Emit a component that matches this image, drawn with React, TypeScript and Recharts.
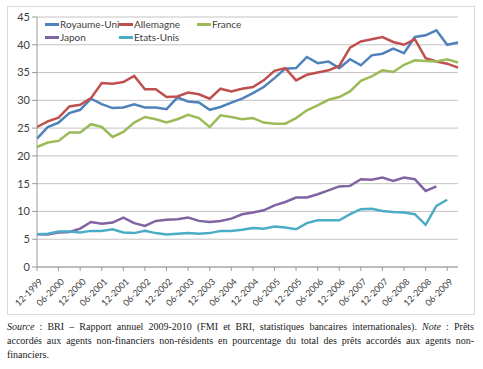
import React from "react";
import {
  LineChart,
  Line,
  XAxis,
  YAxis,
  CartesianGrid,
  Legend,
} from "recharts";

// quarterly, 12-1999 .. 09-2009
const QUARTERS = [
  "12-1999", "03-2000", "06-2000", "09-2000", "12-2000", "03-2001", "06-2001", "09-2001",
  "12-2001", "03-2002", "06-2002", "09-2002", "12-2002", "03-2003", "06-2003", "09-2003",
  "12-2003", "03-2004", "06-2004", "09-2004", "12-2004", "03-2005", "06-2005", "09-2005",
  "12-2005", "03-2006", "06-2006", "09-2006", "12-2006", "03-2007", "06-2007", "09-2007",
  "12-2007", "03-2008", "06-2008", "09-2008", "12-2008", "03-2009", "06-2009", "09-2009",
];

const ROYAUME_UNI = [
  23.1, 25.2, 26.0, 27.7, 28.3, 30.3, 29.3, 28.6, 28.7, 29.3,
  28.7, 28.7, 28.4, 30.5, 29.8, 29.6, 28.3, 28.8, 29.6, 30.3,
  31.3, 32.4, 34.0, 35.7, 35.8, 37.8, 36.7, 37.0, 35.8, 37.4,
  36.3, 38.1, 38.4, 39.3, 38.5, 41.4, 41.7, 42.6, 40.0, 40.4,
];
const ALLEMAGNE = [
  25.2, 26.2, 26.9, 28.9, 29.2, 30.4, 33.1, 33.0, 33.3, 34.4,
  32.0, 32.0, 30.6, 30.7, 31.4, 31.1, 30.3, 32.1, 31.6, 32.1,
  32.4, 33.6, 35.3, 35.8, 33.6, 34.6, 35.0, 35.4, 36.2, 39.5,
  40.6, 41.0, 41.4, 40.5, 40.0, 41.0, 37.6, 37.0, 36.6, 35.9,
];
const FRANCE = [
  21.6, 22.4, 22.7, 24.2, 24.2, 25.7, 25.2, 23.4, 24.3, 26.0,
  27.0, 26.6, 26.0, 26.6, 27.4, 26.8, 25.2, 27.3, 27.0, 26.6,
  26.8, 26.0, 25.8, 25.8, 26.8, 28.2, 29.1, 30.1, 30.6, 31.6,
  33.5, 34.3, 35.4, 35.1, 36.4, 37.2, 37.1, 37.0, 37.4, 36.8,
];
const JAPON = [
  5.9, 5.85, 6.2, 6.3, 6.9, 8.1, 7.8, 8.0, 8.9, 7.9,
  7.4, 8.3, 8.5, 8.6, 8.9, 8.3, 8.1, 8.3, 8.7, 9.5,
  9.8, 10.2, 11.1, 11.7, 12.5, 12.5, 13.1, 13.8, 14.5, 14.6,
  15.8, 15.7, 16.1, 15.5, 16.1, 15.8, 13.7, 14.5, null, null,
];
const ETATS_UNIS = [
  5.9, 6.0, 6.4, 6.4, 6.2, 6.5, 6.5, 6.8, 6.2, 6.1,
  6.5, 6.1, 5.85, 6.0, 6.1, 6.0, 6.1, 6.5, 6.5, 6.7,
  7.0, 6.9, 7.3, 7.1, 6.8, 7.9, 8.4, 8.4, 8.4, 9.5,
  10.4, 10.5, 10.1, 9.9, 9.8, 9.5, 7.6, 11.0, 12.1, null,
];

const Y_TICKS = [0, 5, 10, 15, 20, 25, 30, 35, 40, 45];

const SERIES = [
  { key: "uk", name: "Royaume-Uni", color: "#4F81BD" },
  { key: "de", name: "Allemagne", color: "#C0504D" },
  { key: "fr", name: "France", color: "#9BBB59" },
  { key: "jp", name: "Japon", color: "#8064A2" },
  { key: "us", name: "Etats-Unis", color: "#4BACC6" },
];

const data = QUARTERS.map((q, i) => ({
  q,
  uk: ROYAUME_UNI[i],
  de: ALLEMAGNE[i],
  fr: FRANCE[i],
  jp: JAPON[i],
  us: ETATS_UNIS[i],
}));

const FONT = "Lato, 'Liberation Sans', sans-serif";

const XTick = (props: any) => {
  const { x, y, payload } = props;
  return (
    <g transform={`translate(${x + 4},${y + 7})`}>
      <text
        textAnchor="end"
        transform="rotate(-45)"
        dy="0.35em"
        fontSize={9}
        fontFamily={FONT}
        fill="#404040"
      >
        {payload.value}
      </text>
    </g>
  );
};

// legend columns as in the original (3 per row)
const COLS = [0, 74, 152];

const renderLegend = () => (
  <div style={{ position: "relative", width: 240, height: 28 }}>
    {SERIES.map((s, i) => (
      <div
        key={s.key}
        style={{
          position: "absolute",
          left: COLS[i % 3],
          top: Math.floor(i / 3) * 13,
          display: "flex",
          alignItems: "center",
          fontFamily: FONT,
          fontSize: 10,
          color: "#404040",
          whiteSpace: "nowrap",
          lineHeight: "13px",
        }}
      >
        <span
          style={{
            display: "inline-block",
            width: 14,
            height: 3,
            background: s.color,
            marginRight: 1,
          }}
        />
        {s.name}
      </div>
    ))}
  </div>
);

export default function App() {
  return (
    <div
      style={{
        position: "absolute",
        left: 0,
        top: 0,
        width: 483,
        height: 369,
        background: "#fff",
      }}
    >
      <div
        style={{
          position: "absolute",
          left: 7,
          top: 6,
          width: 466,
          height: 307,
          border: "1px solid #d9d9d9",
        }}
      />
      <div style={{ position: "absolute", left: 0, top: 0 }}>
        <LineChart
          width={483}
          height={314}
          data={data}
          margin={{ top: 17, right: 25, left: 7, bottom: 0 }}
        >
          <CartesianGrid vertical={false} stroke="#c4c4c4" />
          <XAxis
            dataKey="q"
            interval={1}
            height={47}
            tick={<XTick />}
            tickSize={4}
            axisLine={{ stroke: "#9a9a9a" }}
            tickLine={{ stroke: "#9a9a9a" }}
          />
          <YAxis
            domain={[0, 45]}
            ticks={Y_TICKS}
            width={30}
            tickSize={5}
            axisLine={{ stroke: "#9a9a9a" }}
            tickLine={{ stroke: "#9a9a9a" }}
            tick={{ fill: "#404040", fontSize: 11, fontFamily: FONT }}
          />
          <Legend
            layout="horizontal"
            verticalAlign="middle"
            align="center"
            content={renderLegend}
            wrapperStyle={{ left: 45, top: 18, width: 240 }}
          />
          {SERIES.map((s) => (
            <Line
              key={s.key}
              type="linear"
              dataKey={s.key}
              name={s.name}
              stroke={s.color}
              strokeWidth={2.5}
              dot={false}
              isAnimationActive={false}
            />
          ))}
        </LineChart>
      </div>
      <div
        style={{
          position: "absolute",
          left: 7,
          top: 320,
          width: 467,
          fontFamily: "'Liberation Serif', 'DejaVu Serif', serif",
          fontSize: 10,
          lineHeight: "14px",
          color: "#222",
        }}
      >
        <div style={{ textAlign: "justify", textAlignLast: "justify" }}>
          <i>Source</i> : BRI – Rapport annuel 2009-2010 (FMI et BRI, statistiques
          bancaires internationales). <i>Note</i> : Prêts
        </div>
        <div style={{ textAlign: "justify", textAlignLast: "justify" }}>
          accordés aux agents non-financiers non-résidents en pourcentage du total
          des prêts accordés aux agents non-
        </div>
        <div>financiers.</div>
      </div>
    </div>
  );
}
